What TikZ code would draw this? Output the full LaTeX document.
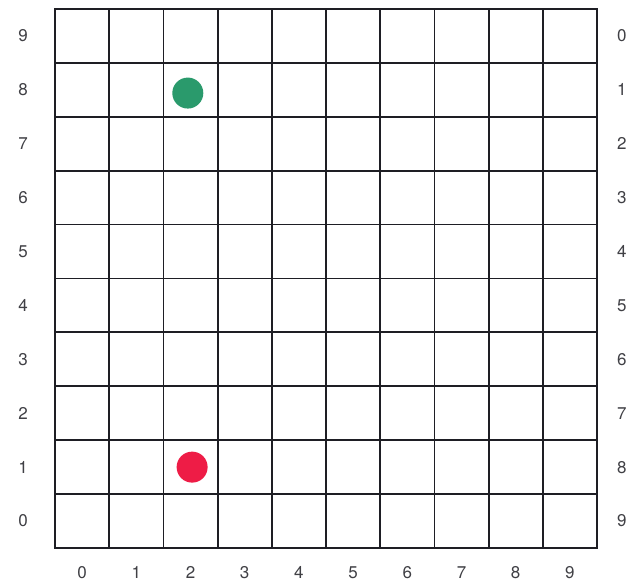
\documentclass[tikz,border=0pt]{standalone}
\usepackage{fontspec}
\setmainfont{TeX Gyre Heros}
\usetikzlibrary{positioning}
\definecolor{Board}{HTML}{1E1E24}
\definecolor{Jade}{HTML}{2A9A6C}
\definecolor{Crimson}{HTML}{EE1C46}

\begin{document}
\begin{tikzpicture}[x=54.2pt,y=53.9pt,
    lab/.style={font=\fontsize{17}{20}\selectfont,text=Board!85},
    pawn/.style={circle,inner sep=0pt,minimum size=31pt}]
  \clip (-1.015,-0.705) rectangle (10.572,10.167);
  \fill[white] (-1.015,-0.705) rectangle (10.572,10.167);
  \foreach \k in {0,...,10}{
    \draw[Board,line width=1.8pt,line cap=rect] (\k,0) -- (\k,10);
    \draw[Board,line width=1.8pt,line cap=rect] (0,\k) -- (10,\k);
  }
  \foreach \i in {0,...,9}{
    \pgfmathtruncatemacro{\j}{9-\i}
    \node[lab] (left\i) at (-0.59,\i+0.5) {\i};
    \node[lab] (right\i) at (10.46,\i+0.5) {\j};
    \node[lab] (bottom\i) at (\i+0.5,-0.46) {\i};
  }
  \node[pawn,fill=Jade] (green) at (2.45,8.44) {};
  \node[pawn,fill=Crimson] (red) at (2.53,1.5) {};
\end{tikzpicture}
\end{document}
